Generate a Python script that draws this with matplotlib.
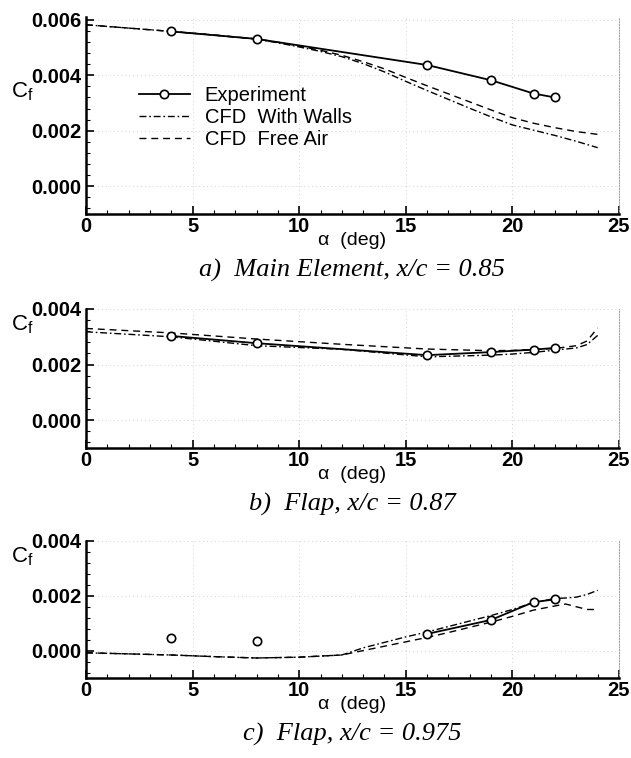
import numpy as np
from matplotlib import pyplot as plt
from matplotlib.ticker import MultipleLocator

######## Datos

alpha_exp = [4, 8, 16, 19, 21, 22]

# a) Main Element, x/c = 0.85
exp_a = [0.00558, 0.00531, 0.00437, 0.00382, 0.00334, 0.00320]
alpha_cfd_a = [0, 2, 4, 6, 8, 9, 10, 11, 12, 13, 14, 15, 16, 17, 18, 19, 20, 21, 22, 23, 24]
walls_a = [0.00582, 0.00570, 0.00558, 0.00545, 0.00530, 0.00517, 0.00502, 0.00486, 0.00467,
           0.00442, 0.00412, 0.00378, 0.00345, 0.00313, 0.00281, 0.00250, 0.00221, 0.00202,
           0.00183, 0.00162, 0.00139]
free_a = [0.00582, 0.00570, 0.00558, 0.00545, 0.00531, 0.00519, 0.00505, 0.00490, 0.00472,
          0.00449, 0.00423, 0.00392, 0.00362, 0.00333, 0.00304, 0.00275, 0.00247, 0.00227,
          0.00211, 0.00197, 0.00187]

# b) Flap, x/c = 0.87
exp_b = [0.00303, 0.00277, 0.00234, 0.00245, 0.00254, 0.00260]
alpha_cfd_b = [0, 4, 8, 12, 16, 19, 20, 21, 22, 23, 23.5, 24]
walls_b = [0.00318, 0.00300, 0.00268, 0.00255, 0.00228, 0.00234, 0.00238, 0.00244, 0.00252,
           0.00260, 0.00272, 0.00305]
free_b = [0.00330, 0.00314, 0.00292, 0.00273, 0.00256, 0.00250, 0.00251, 0.00254, 0.00258,
          0.00268, 0.00285, 0.00332]

# c) Flap, x/c = 0.975
exp_c = [0.00045, 0.00035, 0.00061, 0.00112, 0.00177, 0.00187]
alpha_cfd_c = [0, 2, 4, 6, 8, 10, 12, 13, 14, 15, 16, 17, 18, 19, 20, 21, 22, 22.5, 23, 23.5, 24]
walls_c = [-0.00008, -0.00012, -0.00016, -0.00022, -0.00027, -0.00024, -0.00016, 0.00010,
           0.00030, 0.00050, 0.00068, 0.00088, 0.00108, 0.00128, 0.00150, 0.00176, 0.00190,
           0.00192, 0.00195, 0.00205, 0.00220]
free_c = [-0.00008, -0.00012, -0.00016, -0.00022, -0.00027, -0.00024, -0.00016, 0.00000,
          0.00016, 0.00032, 0.00048, 0.00066, 0.00085, 0.00104, 0.00125, 0.00148, 0.00163,
          0.00170, 0.00160, 0.00150, 0.00150]

captions = ["a)  Main Element, x/c = 0.85", "b)  Flap, x/c = 0.87", "c)  Flap, x/c = 0.975"]
ylims = [(-0.001, 0.0061), (-0.001, 0.004), (-0.001, 0.004)]

######## Figura

W, H = 631, 758
fig = plt.figure(figsize=(W / 100, H / 100), dpi=100)
plt.rcParams['font.family'] = ['Liberation Sans', 'DejaVu Sans']

# posiciones de los ejes en pixeles (izq, arriba, abajo)
boxes = [(86, 17, 214), (86, 309, 448), (86, 541, 678)]
right = 619

datos = [(exp_a, alpha_cfd_a, walls_a, free_a),
         (exp_b, alpha_cfd_b, walls_b, free_b),
         (exp_c, alpha_cfd_c, walls_c, free_c)]

for k in range(3):
    left, top, bot = boxes[k]
    ax = fig.add_axes([left / W, 1 - bot / H, (right - left) / W, (bot - top) / H])
    exp, acfd, walls, free = datos[k]

    ax.plot(acfd, walls, color='black', lw=1.0, dashes=(5, 2, 1.2, 2), label='CFD  With Walls')
    ax.plot(acfd, free, color='black', lw=1.0, dashes=(5, 3.5), label='CFD  Free Air')
    if k == 2:
        # en c) solo los puntos desde 16 grados van unidos
        ax.plot(alpha_exp[2:], exp[2:], color='black', lw=1.3, marker='o', ms=6,
                mfc='white', mec='black', mew=1.2)
        ax.plot(alpha_exp[:2], exp[:2], ls='none', marker='o', ms=6,
                mfc='white', mec='black', mew=1.2)
    else:
        ax.plot(alpha_exp, exp, color='black', lw=1.3, marker='o', ms=6,
                mfc='white', mec='black', mew=1.2, label='Experiment')

    ax.set_xlim(0, 25)
    ax.set_ylim(*ylims[k])
    ax.xaxis.set_major_locator(MultipleLocator(5))
    ax.xaxis.set_minor_locator(MultipleLocator(1))
    ax.yaxis.set_major_locator(MultipleLocator(0.002))
    ax.yaxis.set_minor_locator(MultipleLocator(0.0004))
    ax.yaxis.set_major_formatter(plt.FormatStrFormatter('%.3f'))
    ax.tick_params(which='major', direction='in', length=6, width=1.2, labelsize=14.5, pad=3)
    ax.tick_params(axis='x', which='major', pad=2)
    ax.tick_params(which='minor', direction='in', length=3, width=0.8)
    for lab in ax.get_xticklabels() + ax.get_yticklabels():
        lab.set_fontweight('bold')

    ax.grid(True, which='major', color='#d2d2d2', lw=0.7, ls=(0, (1, 3)))
    ax.spines['top'].set_visible(False)
    ax.spines['right'].set_color('#a5a5a5')
    ax.spines['right'].set_linestyle((0, (1, 1.5)))
    ax.spines['left'].set_linewidth(1.8)
    ax.spines['bottom'].set_linewidth(1.8)

    ax.set_xlabel('\u03b1  (deg)', fontsize=14, labelpad=-3)
    fig.text(11 / W, 1 - (top + 75 if k == 0 else top + 16) / H, 'C$_{\\mathregular{f}}$',
             fontsize=16, va='center', ha='left')
    fig.text(352 / W, 1 - (bot + 56) / H, captions[k], fontsize=19, style='italic',
             family=['Liberation Serif'], ha='center', va='center')

    if k == 0:
        h, l = ax.get_legend_handles_labels()
        ax.legend([h[2], h[0], h[1]], [l[2], l[0], l[1]], loc='upper left',
                  bbox_to_anchor=(0.10, 0.65), frameon=False, fontsize=14.5,
                  handlelength=2.5, handletextpad=0.75, labelspacing=0.15,
                  borderaxespad=0, borderpad=0)

plt.savefig("out.png", dpi=100)
